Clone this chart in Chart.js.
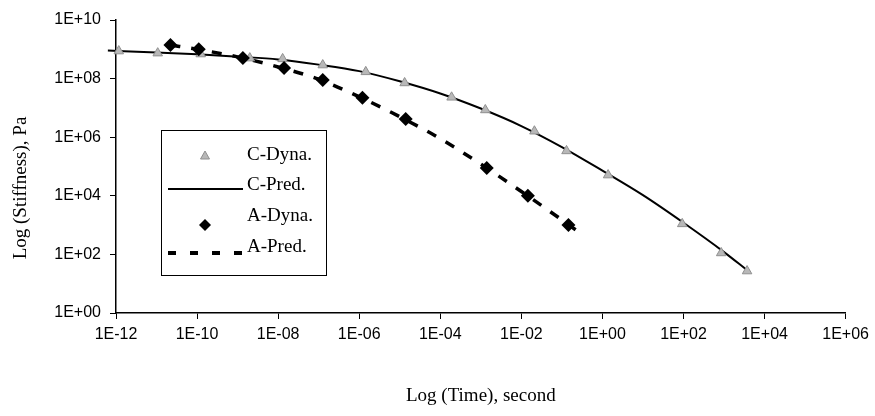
<!DOCTYPE html>
<html><head><meta charset="utf-8">
<script src="https://cdn.jsdelivr.net/npm/chart.js@4/dist/chart.umd.min.js"></script>
<style>html,body{margin:0;padding:0;background:#fff}#wrap{width:875px;height:416px;position:relative}</style>
</head><body><div id="wrap"><canvas id="c" width="875" height="416"></canvas></div>
<script>
// ---- data (time in seconds, stiffness in Pa) ----
const xTickExponents = [-12, -10, -8, -6, -4, -2, 0, 2, 4, 6];
const yTickExponents = [0, 2, 4, 6, 8, 10];

const cDynaTime  = [1.17e-12, 1.07e-11, 1.23e-10, 2.0e-9, 1.29e-8, 1.26e-7, 1.45e-6, 1.32e-5, 1.9e-4, 1.29e-3, 2.1e-2, 0.13, 1.38, 93, 850, 3700];
const cDynaStiff = [8.7e8, 7.4e8, 6.9e8, 5.0e8, 4.7e8, 2.9e8, 1.7e8, 7.1e7, 2.3e7, 8.5e6, 1.6e6, 3.4e5, 5.1e4, 1.1e3, 112, 27];

const cPredTime  = [6.3e-13, 1e-11, 1e-10, 1e-9, 1e-8, 1e-7, 1e-6, 1e-5, 1e-4, 1e-3, 1e-2, 0.1, 1, 10, 100, 1000, 3700];
const cPredStiff = [9.1e8, 7.8e8, 6.8e8, 5.6e8, 4.5e8, 3.0e8, 1.8e8, 8.1e7, 3.1e7, 9.5e6, 2.4e6, 4.6e5, 7.2e4, 1.05e4, 1.2e3, 120, 29];

const aDynaTime  = [2.2e-11, 1.1e-10, 1.35e-9, 1.4e-8, 1.26e-7, 1.2e-6, 1.4e-5, 1.4e-3, 1.45e-2, 0.145];
const aDynaStiff = [1.4e9, 1.0e9, 5.0e8, 2.3e8, 9.0e7, 2.2e7, 4.2e6, 8.9e4, 1.0e4, 1.0e3];

const aPredTime  = [2.2e-11, 1e-10, 1e-9, 1e-8, 1e-7, 1e-6, 1e-5, 1e-4, 1e-3, 1e-2, 0.1, 0.24];
const aPredStiff = [1.4e9, 1.0e9, 5.5e8, 2.5e8, 9.5e7, 2.4e7, 5.0e6, 8.9e5, 1.2e5, 1.4e4, 1.5e3, 6.3e2];

const seriesNames = ['C-Dyna.', 'C-Pred.', 'A-Dyna.', 'A-Pred.'];
const xTitle = 'Log (Time), second';
const yTitle = 'Log (Stiffness), Pa';

// ---- helpers ----
const pts = (xs, ys) => xs.map((x, i) => ({x: x, y: ys[i]}));
const fmtExp = v => {
  const e = Math.round(Math.log10(v));
  const a = Math.abs(e);
  return '1E' + (e < 0 ? '-' : '+') + (a < 10 ? '0' : '') + a;
};

const TRI_FILL = '#b8b8b8', TRI_EDGE = '#909090';

const overlay = {
  id: 'overlay',
  afterDraw(chart) {
    const ctx = chart.ctx;
    ctx.save();
    ctx.fillStyle = '#000';
    ctx.font = '19px "Liberation Serif", "Times New Roman", serif';
    ctx.textAlign = 'center';
    ctx.textBaseline = 'middle';
    const ca = chart.chartArea;
    ctx.fillText(xTitle, (ca.left + ca.right) / 2, 396);
    ctx.save();
    ctx.translate(21, 188);
    ctx.rotate(-Math.PI / 2);
    ctx.fillText(yTitle, 0, 0);
    ctx.restore();

    // legend box
    const L = 161, T = 130, R = 326, B = 275;
    ctx.fillStyle = '#fff';
    ctx.fillRect(L, T, R - L, B - T);
    ctx.strokeStyle = '#000';
    ctx.lineWidth = 1;
    ctx.strokeRect(L + 0.5, T + 0.5, R - L, B - T);
    const rows = [155, 185, 216, 247];
    ctx.fillStyle = '#000';
    ctx.textAlign = 'left';
    rows.forEach((y, i) => ctx.fillText(seriesNames[i], 247, y));
    // triangle
    ctx.beginPath();
    ctx.moveTo(205, rows[0] - 4);
    ctx.lineTo(209.5, rows[0] + 4);
    ctx.lineTo(200.5, rows[0] + 4);
    ctx.closePath();
    ctx.fillStyle = TRI_FILL; ctx.fill();
    ctx.strokeStyle = TRI_EDGE; ctx.lineWidth = 1; ctx.stroke();
    // solid line
    ctx.beginPath();
    ctx.moveTo(168, rows[1] + 4); ctx.lineTo(243, rows[1] + 4);
    ctx.strokeStyle = '#000'; ctx.lineWidth = 2; ctx.stroke();
    // diamond
    ctx.beginPath();
    ctx.moveTo(205, rows[2] + 3); ctx.lineTo(211, rows[2] + 9);
    ctx.lineTo(205, rows[2] + 15); ctx.lineTo(199, rows[2] + 9);
    ctx.closePath(); ctx.fillStyle = '#000'; ctx.fill();
    // dashed
    ctx.beginPath();
    ctx.setLineDash([8, 14]);
    ctx.moveTo(168, rows[3] + 6); ctx.lineTo(246, rows[3] + 6);
    ctx.lineWidth = 4; ctx.stroke();
    ctx.setLineDash([]);
    ctx.restore();
  }
};

const axisCommon = {
  type: 'logarithmic',
  grid: { display: true, drawOnChartArea: false, drawTicks: true, tickLength: 6, color: '#000', lineWidth: 1 },
  border: { display: true, color: '#000', width: 1.5 },
  ticks: {
    color: '#000',
    font: { family: '"Liberation Sans", Arial, sans-serif', size: 16 },
    callback: v => fmtExp(v),
    autoSkip: false,
    maxRotation: 0
  }
};

new Chart(document.getElementById('c'), {
  type: 'scatter',
  data: {
    datasets: [
      { label: seriesNames[1], data: pts(cPredTime, cPredStiff), showLine: true, borderColor: '#000', borderWidth: 2,
        pointRadius: 0, cubicInterpolationMode: 'monotone', clip: false, order: 3 },
      { label: seriesNames[3], data: pts(aPredTime, aPredStiff), showLine: true, borderColor: '#000', borderWidth: 3.5,
        borderDash: [10, 11], pointRadius: 0, cubicInterpolationMode: 'monotone', order: 4 },
      { label: seriesNames[0], data: pts(cDynaTime, cDynaStiff), pointStyle: 'triangle', pointRadius: 5.5,
        backgroundColor: TRI_FILL, borderColor: TRI_EDGE, borderWidth: 1, clip: false, order: 2 },
      { label: seriesNames[2], data: pts(aDynaTime, aDynaStiff), pointStyle: 'rectRot', pointRadius: 7,
        backgroundColor: '#000', borderColor: '#000', borderWidth: 0, order: 1 }
    ]
  },
  options: {
    responsive: false,
    animation: false,
    devicePixelRatio: 1,
    layout: { padding: { left: 0, right: 28, top: 20, bottom: 0 } },
    plugins: { legend: { display: false }, tooltip: { enabled: false } },
    scales: {
      x: Object.assign({}, axisCommon, {
        min: 1e-12, max: 1e6,
        ticks: Object.assign({}, axisCommon.ticks, { padding: 6 }),
        afterBuildTicks: s => { s.ticks = xTickExponents.map(e => ({ value: Math.pow(10, e) })); },
        afterFit: s => { s.height = 103; }
      }),
      y: Object.assign({}, axisCommon, {
        min: 1, max: 1e10,
        ticks: Object.assign({}, axisCommon.ticks, { padding: 9 }),
        afterBuildTicks: s => { s.ticks = yTickExponents.map(e => ({ value: Math.pow(10, e) })); },
        afterFit: s => { s.width = 116; }
      })
    }
  },
  plugins: [overlay]
});
</script>
</body></html>
